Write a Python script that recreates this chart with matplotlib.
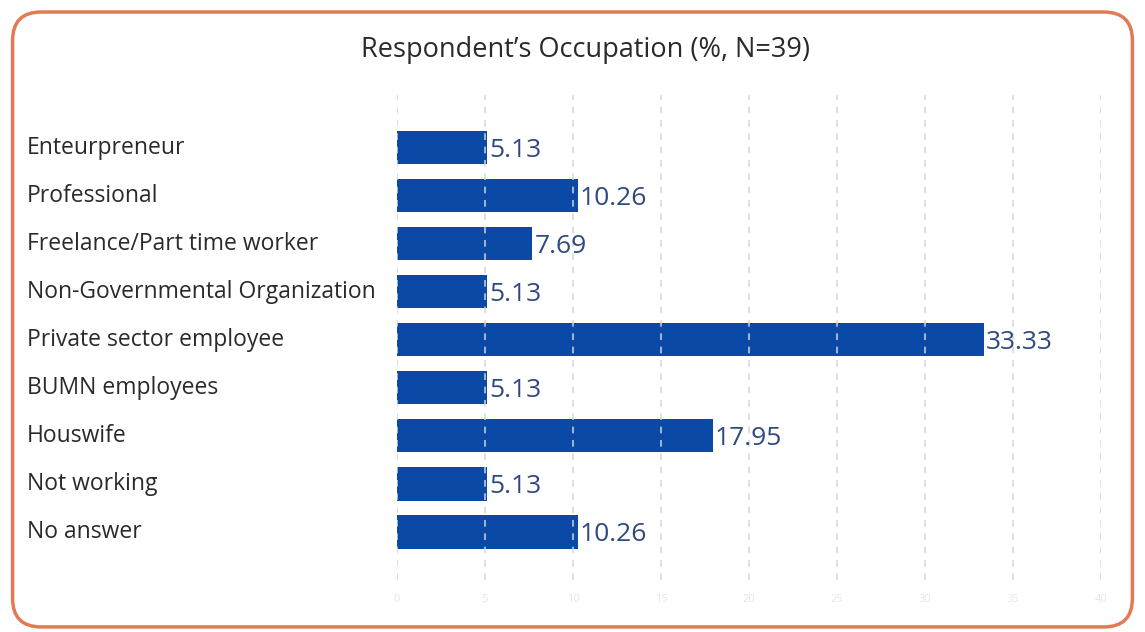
import matplotlib.pyplot as plt
from matplotlib.patches import FancyBboxPatch

categories = ["Enteurpreneur", "Professional", "Freelance/Part time worker",
              "Non-Governmental Organization", "Private sector employee",
              "BUMN employees", "Houswife", "Not working", "No answer"]
values = [5.13, 10.26, 7.69, 5.13, 33.33, 5.13, 17.95, 5.13, 10.26]
xticks = [0, 5, 10, 15, 20, 25, 30, 35, 40]

plt.rcParams['font.family'] = ['Open Sans', 'DejaVu Sans']

fig = plt.figure(figsize=(11.45, 6.32), dpi=100)
ax = fig.add_axes([0.3467, 0.0823, 0.6149, 0.7674])

bar_color = "#0a4aa6"
ypos = range(len(categories))
ax.barh(ypos, values, height=0.69, color=bar_color, zorder=2)

for y, v in zip(ypos, values):
    ax.text(v + 0.12, y + 0.05, f"{v:.2f}", va="center", ha="left",
            fontsize=19, color="#2e4a7e", zorder=4)

ax.set_xlim(0, 40)
ax.set_ylim(9.0, -1.1)
ax.set_xticks(xticks)
ax.set_xticklabels([str(t) for t in xticks], fontsize=8, color="#e6e6e6")
ax.set_yticks(list(ypos))
ax.set_yticklabels([])
ax.tick_params(length=0, pad=10)

ax.grid(axis="x", color="#cfd6df", linestyle=(0, (4, 4)), linewidth=1.2,
        alpha=0.9, zorder=3)
ax.set_axisbelow(False)
for s in ax.spines.values():
    s.set_visible(False)

# category names, left aligned at the figure edge
for y, name in zip(ypos, categories):
    ax.annotate(name, xy=(0, y), xycoords=("figure fraction", "data"),
                xytext=(27, 0), textcoords="offset pixels",
                va="center", ha="left", fontsize=16.5, color="#2a2a2a")

fig.text(0.511, 0.921, "Respondent\u2019s Occupation (%, N=39)",
         ha="center", va="center", fontsize=19.5, color="#2a2a2a")

border = FancyBboxPatch((0.011, 0.008), 0.978, 0.973,
                        boxstyle="round,pad=0,rounding_size=0.025",
                        transform=fig.transFigure, facecolor="none",
                        edgecolor="#e07b55", linewidth=2.5, mutation_aspect=1.8)
fig.patches.append(border)

fig.savefig("out.png", dpi=100)
